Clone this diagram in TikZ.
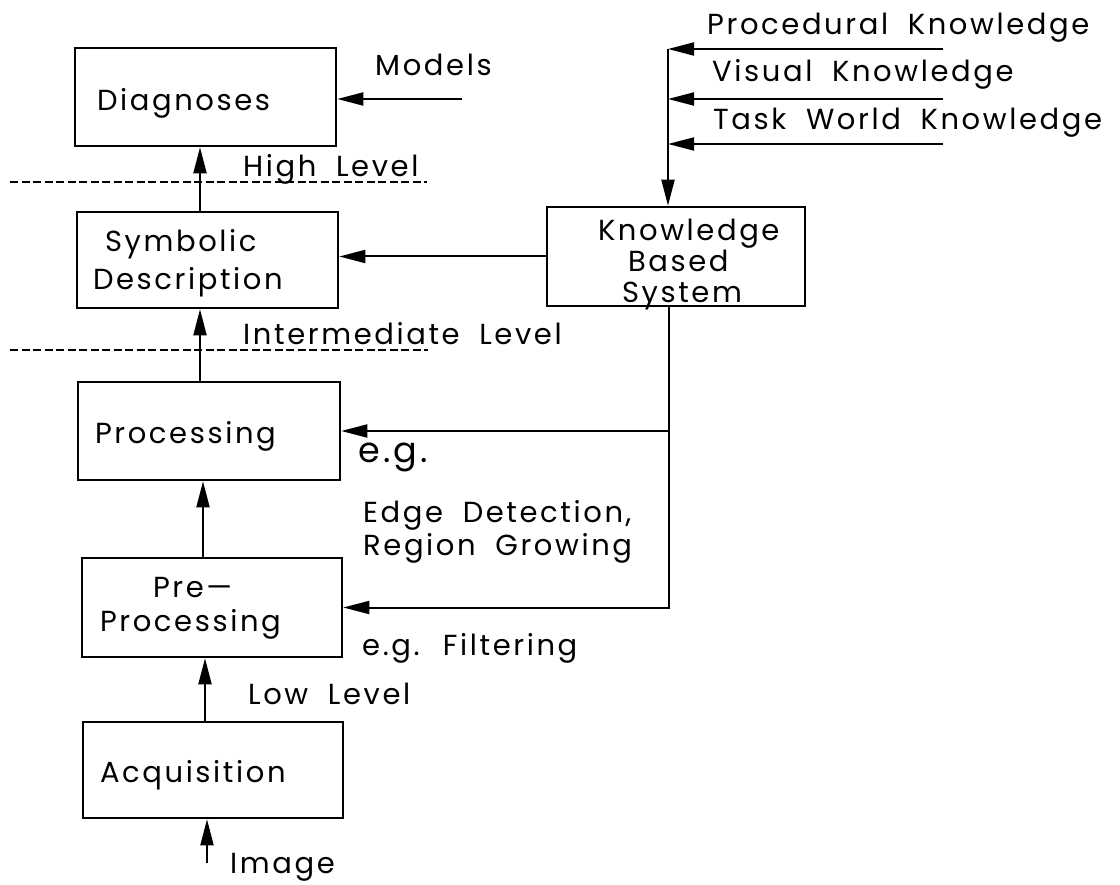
\documentclass[tikz,border=0pt]{standalone}
\usepackage{fontspec}
\setmainfont{Poppins}[LetterSpace=9, WordSpace=1.9]
\usetikzlibrary{arrows.meta}
\newcommand\txtfont{\fontsize{29}{34}\selectfont}
\newcommand\egfont{\fontsize{35}{40}\selectfont}
\begin{document}
\begin{tikzpicture}[x=1pt,y=-1pt,
  box/.style={draw, line width=2.6pt, inner ysep=0pt, text depth=0pt, font=\txtfont},
  lbl/.style={inner sep=0pt, font=\txtfont, anchor=base west},
  arr/.style={-{Triangle[length=26pt,width=13pt]}, line width=2pt},
  sep/.style={line width=1.7pt, dash pattern=on 8pt off 3.5pt}]
\fill[white] (0,0) rectangle (1120,885);
\useasboundingbox (0,0) rectangle (1120,885);

% processing chain (text height/depth place the first baseline inside each box)
\node[box, minimum width=261pt, minimum height=98pt, text width=217pt, inner xsep=22pt, align=left,
  text height=28pt]
  (diag) at (205.5,97) {Diagnoses};
\node[box, minimum width=261pt, minimum height=96pt, text width=229pt, inner xsep=16pt, align=left,
  text height=20pt, text depth=36pt, font=\fontsize{29}{38}\selectfont]
  (sym) at (207.5,260) {\hspace*{12pt}Symbolic\\Description};
\node[box, minimum width=262pt, minimum height=98pt, text width=228pt, inner xsep=17pt, align=left,
  text height=24pt]
  (proc) at (209,431) {Processing};
\node[box, minimum width=260pt, minimum height=99pt, text width=224pt, inner xsep=18pt, align=left,
  text height=20pt, text depth=40pt]
  (pre) at (212,607.5) {\hspace*{53pt}Pre---\\Processing};
\node[box, minimum width=260pt, minimum height=96pt, text width=226pt, inner xsep=17pt, align=left,
  text height=24pt]
  (acq) at (213,770) {Acquisition};
\node[box, minimum width=258pt, minimum height=99pt, text width=156pt, inner xsep=51pt, align=left,
  text height=20pt, text depth=51pt, font=\fontsize{29}{31}\selectfont]
  (kbs) at (676,256.5) {Knowledge\\\hspace*{30pt}Based\\\hspace*{24pt}System};

% upward flow
\draw[arr] ([xshift=-7.5pt]sym.north) -- ([xshift=-7.5pt]sym.north |- diag.south);
\draw[arr] ([xshift=-9pt]proc.north) -- ([xshift=-9pt]proc.north |- sym.south);
\draw[arr] ([xshift=-9pt]pre.north) -- ([xshift=-9pt]pre.north |- proc.south);
\draw[arr] ([xshift=-8pt]acq.north) -- ([xshift=-8pt]acq.north |- pre.south);
\coordinate (img) at (207,863);
\draw[arr] (img) -- (img |- acq.south);

% level separators
\coordinate (hiL) at (10,182);
\coordinate (hiR) at (427,182);
\coordinate (imL) at (10,350);
\coordinate (imR) at (428,350);
\draw[sep] (hiL) -- (hiR);
\draw[sep] (imL) -- (imR);

% knowledge inputs
\coordinate (kj) at (668,49);
\coordinate (k1) at (943,49);
\coordinate (k2) at (943,99);
\coordinate (k3) at (943,144);
\draw[arr] (k1) -- (kj);
\draw[arr] (k2) -- (k2 -| kj);
\draw[arr] (k3) -- (k3 -| kj);
\draw[arr] (kj) -- (kj |- kbs.north);

% knowledge based system outputs
\draw[arr] (kbs.west) -- (kbs.west -| sym.east);
\coordinate (kd) at ([xshift=-7pt]kbs.south);
\draw[arr] (kd) |- (proc.east);
\draw[arr] (kd) |- (pre.east);

% models input
\coordinate (mod) at (462,99);
\draw[arr] (mod) -- (mod -| diag.east);

% labels
\node[lbl] (tmodels) at (375,76) {Models};
\node[lbl] (thigh) at (243,177) {High Level};
\node[lbl] (tinter) at (243,345) {Intermediate Level};
\node[lbl] (tproc) at (707,35) {Procedural Knowledge};
\node[lbl] (tvis) at (712,82) {Visual Knowledge};
\node[lbl] (ttask) at (713,130) {Task World Knowledge};
\node[lbl, font=\egfont] (teg) at (358,463) {e.g.};
\node[lbl, align=left, font=\fontsize{29}{33}\selectfont] (tedge) at (363,555) {Edge Detection,\\Region Growing};
\node[lbl] (tfilt) at (362,655) {e.g. Filtering};
\node[lbl] (tlow) at (248,704) {Low Level};
\node[lbl] (timage) at (230,873) {Image};
\end{tikzpicture}
\end{document}
